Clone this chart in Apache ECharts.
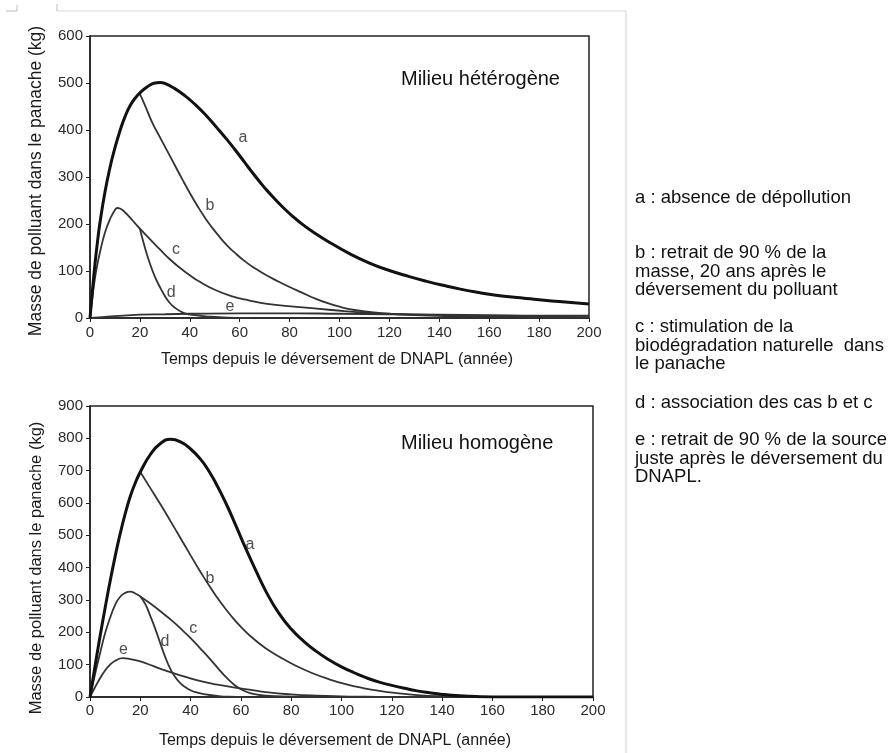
<!DOCTYPE html>
<html>
<head>
<meta charset="utf-8">
<script src="https://cdn.jsdelivr.net/npm/echarts@6/dist/echarts.min.js"></script>
<style>
html,body{margin:0;padding:0;background:#fff;}
#chart{width:896px;height:753px;}
</style>
</head>
<body>
<div id="chart"></div>
<script>
// ---------- DATA ----------
const xTicks = { min: 0, max: 200, interval: 20 };
const topYMax = 600;
const bottomYMax = 900;

// Milieu hétérogène (top)
const topA = [[0,0],[1,60],[2,115],[3,162],[4,203],[6,268],[8,320],[10,362],[12,398],[14,428],[16,451],[18,467],[20,479],[23,492],[26,500],[28,501],[30,499],[34,488],[38,473],[42,455],[46,434],[51,404],[55,379],[58,359],[62,331],[65,310],[68,290],[71,271],[78,232],[84,204],[90,181],[97,158],[104,137],[112,117],[120,101],[128,88],[135,78],[142,69],[148,62],[155,55],[162,49],[170,44],[178,40],[188,35],[200,30]];
const topB = [[20,477],[22,453],[25,415],[28,385],[31,355],[34,325],[37,295],[40,266],[43,239],[46,214],[49,192],[52,172],[55,154],[58,139],[62,121],[66,106],[70,93],[75,79],[80,66],[85,54],[90,42],[95,32],[100,24],[106,17],[112,13],[120,9],[130,6],[145,4],[165,3],[185,2],[200,1]];
const topC = [[0,0],[1,45],[2,85],[3,115],[4,140],[6,182],[8,210],[10,230],[11,234],[12,233],[14,225],[16,214],[18,202],[20,190],[24,168],[28,146],[32,125],[36,107],[40,91],[44,77],[50,60],[57,46],[64,37],[71,30],[84,23],[97,17],[112,11],[125,8],[140,6],[160,4],[180,3],[200,2]];
const topD = [[20,190],[22,150],[24,116],[26,88],[28,66],[30,47],[32,32],[34,22],[36,15],[38,10],[42,6],[48,3],[55,1],[65,0]];
const topE = [[0,0],[5,2],[10,4],[20,7],[30,8],[40,9],[60,10],[80,10],[100,9],[120,8],[140,7],[160,6],[180,5],[200,5]];
const topLabels = [['a',61.3,383],['b',48.1,240],['c',34.5,145],['d',32.5,53],['e',56.1,24]];

// Milieu homogène (bottom)
const botA = [[0,0],[2,95],[4,188],[6,275],[8,358],[10,435],[12,505],[14,567],[16,620],[18,662],[20,696],[24,750],[28,784],[32,797],[36,789],[40,767],[44,735],[47,702],[50,662],[54,600],[58,530],[62,458],[66,390],[70,326],[75,260],[80,210],[85,172],[90,141],[95,115],[100,93],[105,75],[110,59],[115,46],[120,36],[125,27],[130,19],[135,13],[140,8],[147,3.5],[155,1],[165,0],[200,0]];
const botB = [[20,696],[24,646],[28,596],[32,544],[36,491],[40,438],[44,386],[48,337],[52,292],[56,252],[60,217],[65,180],[70,150],[76,121],[82,96],[88,75],[95,55],[102,39],[109,27],[115,19],[122,12],[130,6],[140,2],[150,0.5],[160,0],[200,0]];
const botC = [[0,0],[2,70],[4,135],[6,197],[8,245],[10,285],[12,310],[14,322],[16,326],[18,320],[20,311],[24,289],[28,265],[32,240],[36,212],[40,182],[44,149],[48,115],[51,88],[54,62],[57,40],[60,24],[64,11],[70,4],[80,1],[90,0]];
const botD = [[20,311],[22,287],[24,250],[26,210],[28,165],[30,122],[32,86],[34,60],[36,42],[38,30],[40,21],[42,15],[46,8],[50,4],[55,1],[62,0]];
const botE = [[0,0],[2,30],[4,58],[6,82],[8,100],[10,112],[13,120],[16,117],[20,110],[25,96],[31,79],[38,62],[44,49],[50,39],[57,30],[64,22],[70,15],[80,8],[90,4],[100,2],[110,1],[120,0],[200,0]];
const botLabels = [['a',63.6,470],['b',47.7,367],['c',41.1,213],['d',29.8,171],['e',13.3,148]];

const titleTop = 'Milieu hétérogène';
const titleBottom = 'Milieu homogène';
const yTitle = 'Masse de polluant dans le panache (kg)';
const xTitle = 'Temps depuis le déversement de DNAPL (année)';
const legendLines = [
  ['a : absence de dépollution'],
  ['b : retrait de 90 % de la', 'masse, 20 ans après le', 'déversement du polluant'],
  ['c : stimulation de la', 'biodégradation naturelle  dans', 'le panache'],
  ['d : association des cas b et c'],
  ['e : retrait de 90 % de la source', 'juste après le déversement du', 'DNAPL.']
];

// ---------- CHART ----------
const FONT = '"Liberation Sans", Arial, Helvetica, sans-serif';
const chart = echarts.init(document.getElementById('chart'), null, { renderer: 'canvas' });

function xAxisCfg(gi, margin) {
  return {
    gridIndex: gi, type: 'value', min: xTicks.min, max: xTicks.max, interval: xTicks.interval,
    axisLine: { show: true, lineStyle: { color: '#222', width: 1.5 } },
    axisTick: { show: true, inside: false, length: 4, lineStyle: { color: '#222', width: 1 } },
    axisLabel: { margin: margin, fontSize: 15, color: '#2a2a2a', fontFamily: FONT },
    splitLine: { show: false }
  };
}
function yAxisCfg(gi, max) {
  return {
    gridIndex: gi, type: 'value', min: 0, max: max, interval: 100,
    axisLine: { show: true, lineStyle: { color: '#222', width: 1.5 } },
    axisTick: { show: true, inside: false, length: 4, lineStyle: { color: '#222', width: 1 } },
    axisLabel: { margin: 7, fontSize: 15, color: '#2a2a2a', fontFamily: FONT },
    splitLine: { show: false }
  };
}
function curve(data, gi, thick, z) {
  return {
    type: 'line', xAxisIndex: gi, yAxisIndex: gi, data: data,
    smooth: 0.5, symbol: 'none', showSymbol: false,
    lineStyle: { color: thick ? '#111' : '#333', width: thick ? 3 : 1.8 },
    z: z, silent: true, animation: false
  };
}
function labelSeries(labels, gi) {
  return {
    type: 'scatter', xAxisIndex: gi, yAxisIndex: gi, symbolSize: 0,
    itemStyle: { color: 'transparent' },
    data: labels.map(l => ({ name: l[0], value: [l[1], l[2]] })),
    label: { show: true, position: 'inside', formatter: '{b}', fontSize: 16, color: '#222', fontFamily: FONT },
    z: 10, silent: true, animation: false
  };
}

const graphics = [];
// document frame artifacts
graphics.push({ type: 'line', shape: { x1: 57, y1: 11, x2: 626, y2: 11 }, style: { stroke: '#d8d8d8', lineWidth: 1 } });
graphics.push({ type: 'line', shape: { x1: 626, y1: 11, x2: 626, y2: 753 }, style: { stroke: '#cfcfcf', lineWidth: 1 } });
graphics.push({ type: 'line', shape: { x1: 6, y1: 11, x2: 17, y2: 11 }, style: { stroke: '#bbb', lineWidth: 1 } });
graphics.push({ type: 'line', shape: { x1: 17, y1: 5, x2: 17, y2: 11 }, style: { stroke: '#bbb', lineWidth: 1 } });
graphics.push({ type: 'line', shape: { x1: 57, y1: 4, x2: 57, y2: 11 }, style: { stroke: '#bbb', lineWidth: 1 } });
// chart titles
graphics.push({ type: 'text', x: 401, y: 79, style: { text: titleTop, font: '20px ' + FONT, fill: '#111', textVerticalAlign: 'middle' } });
graphics.push({ type: 'text', x: 401, y: 443, style: { text: titleBottom, font: '20px ' + FONT, fill: '#111', textVerticalAlign: 'middle' } });
// axis titles
graphics.push({ type: 'text', x: 36, y: 181, rotation: Math.PI / 2, style: { text: yTitle, font: '17.5px ' + FONT, fill: '#1a1a1a', textAlign: 'center', textVerticalAlign: 'middle' } });
graphics.push({ type: 'text', x: 36, y: 568, rotation: Math.PI / 2, style: { text: yTitle, font: '16.5px ' + FONT, fill: '#1a1a1a', textAlign: 'center', textVerticalAlign: 'middle' } });
graphics.push({ type: 'text', x: 337, y: 360, style: { text: xTitle, font: '16px ' + FONT, fill: '#1a1a1a', textAlign: 'center', textVerticalAlign: 'middle' } });
graphics.push({ type: 'text', x: 335, y: 741, style: { text: xTitle, font: '16px ' + FONT, fill: '#1a1a1a', textAlign: 'center', textVerticalAlign: 'middle' } });
// legend text block
const paraStarts = [198, 253, 327, 403, 440];
legendLines.forEach((para, i) => {
  para.forEach((line, j) => {
    graphics.push({ type: 'text', x: 635, y: paraStarts[i] + j * 18.7, style: { text: line, font: '18.5px ' + FONT, fill: '#111', textVerticalAlign: 'middle' } });
  });
});

chart.setOption({
  backgroundColor: '#ffffff',
  animation: false,
  grid: [
    { left: 90, top: 36, width: 499, height: 282, show: true, borderColor: '#222', borderWidth: 1.5, backgroundColor: 'transparent' },
    { left: 90, top: 406, width: 503, height: 291, show: true, borderColor: '#222', borderWidth: 1.5, backgroundColor: 'transparent' }
  ],
  xAxis: [xAxisCfg(0, 7), xAxisCfg(1, 6)],
  yAxis: [yAxisCfg(0, topYMax), yAxisCfg(1, bottomYMax)],
  series: [
    curve(topE, 0, false, 2), curve(topD, 0, false, 2), curve(topC, 0, false, 2), curve(topB, 0, false, 2), curve(topA, 0, true, 3),
    labelSeries(topLabels, 0),
    curve(botE, 1, false, 2), curve(botD, 1, false, 2), curve(botC, 1, false, 2), curve(botB, 1, false, 2), curve(botA, 1, true, 3),
    labelSeries(botLabels, 1)
  ],
  graphic: graphics
});
</script>
</body>
</html>
